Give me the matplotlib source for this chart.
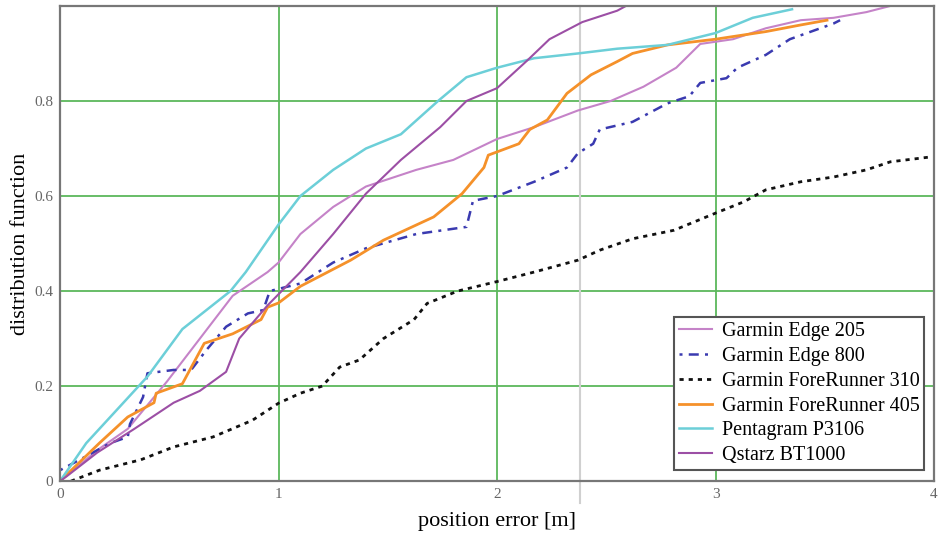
import matplotlib.pyplot as plt
import numpy as np

plt.rcParams['font.family'] = ['Liberation Serif', 'DejaVu Serif']

# Garmin Edge 205 (lighter purple, gradual)
e205_x = [0, 0.17, 0.31, 0.40, 0.49, 0.64, 0.79, 0.95, 1.0, 1.10, 1.25, 1.40, 1.63, 1.80, 2.0, 2.17,
          2.37, 2.52, 2.67, 2.82, 2.93, 3.08, 3.23, 3.39, 3.54, 3.69, 3.80]
e205_y = [0, 0.065, 0.11, 0.16, 0.21, 0.30, 0.39, 0.44, 0.46, 0.52, 0.577, 0.62, 0.655, 0.676, 0.72, 0.745,
          0.78, 0.80, 0.83, 0.87, 0.92, 0.93, 0.953, 0.97, 0.975, 0.987, 1.0]

# Garmin Edge 800 (blue dash-dot)
e800_x = [0, 0.09, 0.23, 0.31, 0.32, 0.38, 0.40, 0.52, 0.60, 0.67, 0.76, 0.86, 0.93, 0.96, 1.10, 1.25,
          1.40, 1.63, 1.86, 1.89, 2.0, 2.17, 2.32, 2.37, 2.44, 2.47, 2.62, 2.78, 2.88, 2.93, 3.05,
          3.10, 3.23, 3.34, 3.54, 3.57]
e800_y = [0.023, 0.045, 0.08, 0.093, 0.12, 0.177, 0.227, 0.234, 0.234, 0.276, 0.325, 0.353, 0.36, 0.40, 0.416, 0.46,
          0.49, 0.52, 0.535, 0.59, 0.60, 0.63, 0.66, 0.69, 0.71, 0.74, 0.756, 0.795, 0.81, 0.838, 0.848,
          0.87, 0.897, 0.93, 0.963, 0.97]

# Garmin ForeRunner 310 (black dotted)
f310_x = [0.05, 0.18, 0.37, 0.52, 0.70, 0.88, 1.0, 1.10, 1.20, 1.28, 1.37, 1.48, 1.62, 1.68, 1.82, 2.0,
          2.17, 2.37, 2.47, 2.62, 2.81, 3.0, 3.13, 3.23, 3.39, 3.54, 3.69, 3.80, 3.98]
f310_y = [0, 0.023, 0.045, 0.072, 0.093, 0.128, 0.164, 0.185, 0.20, 0.24, 0.255, 0.30, 0.34, 0.374, 0.40, 0.42,
          0.44, 0.465, 0.486, 0.51, 0.528, 0.564, 0.588, 0.613, 0.63, 0.64, 0.655, 0.672, 0.682]

# Garmin ForeRunner 405 (orange)
f405_x = [0, 0.18, 0.31, 0.43, 0.44, 0.56, 0.66, 0.79, 0.92, 0.95, 1.0, 1.10, 1.33, 1.48, 1.71, 1.84,
          1.94, 1.96, 2.10, 2.15, 2.23, 2.32, 2.43, 2.55, 2.62, 2.78, 3.0, 3.23, 3.39, 3.51]
f405_y = [0, 0.08, 0.135, 0.165, 0.185, 0.205, 0.29, 0.31, 0.34, 0.366, 0.375, 0.41, 0.465, 0.507, 0.556, 0.605,
          0.66, 0.686, 0.71, 0.74, 0.76, 0.816, 0.855, 0.883, 0.90, 0.918, 0.93, 0.946, 0.96, 0.97]

# Pentagram P3106 (cyan)
p3106_x = [0, 0.12, 0.40, 0.56, 0.78, 0.85, 1.0, 1.10, 1.25, 1.40, 1.56, 1.73, 1.86, 2.0, 2.17, 2.37,
           2.55, 2.78, 3.0, 3.17, 3.35]
p3106_y = [0, 0.08, 0.22, 0.32, 0.40, 0.44, 0.54, 0.60, 0.655, 0.70, 0.73, 0.80, 0.85, 0.87, 0.89, 0.90,
           0.91, 0.918, 0.943, 0.975, 0.993]

# Qstarz BT1000 (darker purple, steep)
qst_x = [0, 0.03, 0.17, 0.34, 0.52, 0.64, 0.76, 0.82, 0.95, 1.10, 1.25, 1.40, 1.56, 1.74, 1.86, 2.0,
         2.14, 2.24, 2.39, 2.55, 2.59]
qst_y = [0, 0.01, 0.06, 0.11, 0.165, 0.19, 0.23, 0.30, 0.37, 0.44, 0.52, 0.605, 0.676, 0.745, 0.80, 0.827,
         0.886, 0.93, 0.966, 0.99, 1.0]

fig = plt.figure(figsize=(9.38, 5.40), dpi=100)
ax = fig.add_axes([0.064, 0.109, 0.9318, 0.880])

ax.grid(True, color='#5cb85c', linewidth=1.3)
ax.set_axisbelow(True)
ax.axvline(2.38, ymin=-0.045, ymax=1, color='#d0d0d0', linewidth=1.5, clip_on=False, zorder=1)

ax.plot(e205_x, e205_y, color='#c583c8', lw=1.5, label='Garmin Edge 205')
ax.plot(e800_x, e800_y, color='#3a3ab0', lw=1.8, linestyle=(0, (1.2, 2.5, 4, 2.5)), label='Garmin Edge 800')
ax.plot(f310_x, f310_y, color='#111111', lw=2.0, linestyle=(0, (1.5, 1.8)), label='Garmin ForeRunner 310')
ax.plot(f405_x, f405_y, color='#f5912a', lw=2.0, label='Garmin ForeRunner 405')
ax.plot(p3106_x, p3106_y, color='#6ccfd8', lw=1.8, label='Pentagram P3106')
ax.plot(qst_x, qst_y, color='#9c4fa5', lw=1.5, label='Qstarz BT1000')

ax.set_xlim(0, 4)
ax.set_ylim(0, 1)
ax.set_xticks([0, 1, 2, 3, 4])
ax.set_xticklabels(['0', '1', '2', '3', '4'])
ax.set_yticks([0, 0.2, 0.4, 0.6, 0.8])
ax.set_yticklabels(['0', '0.2', '0.4', '0.6', '0.8'])
ax.tick_params(length=0, labelsize=11, labelcolor='#666666', pad=5)

for s in ax.spines.values():
    s.set_color('#777777')
    s.set_linewidth(1.6)

ax.set_xlabel('position error [m]', fontsize=16, labelpad=8)
ax.set_ylabel('distribution function', fontsize=16, labelpad=3)

leg = ax.legend(loc='lower right', bbox_to_anchor=(0.989, 0.023), fontsize=14.5, frameon=True,
                fancybox=False, edgecolor='#555555', framealpha=1, handlelength=1.6,
                labelspacing=0.28, borderpad=0.25, handletextpad=0.5, borderaxespad=0)
leg.get_frame().set_linewidth(1.5)

plt.savefig('out.png', dpi=100)
